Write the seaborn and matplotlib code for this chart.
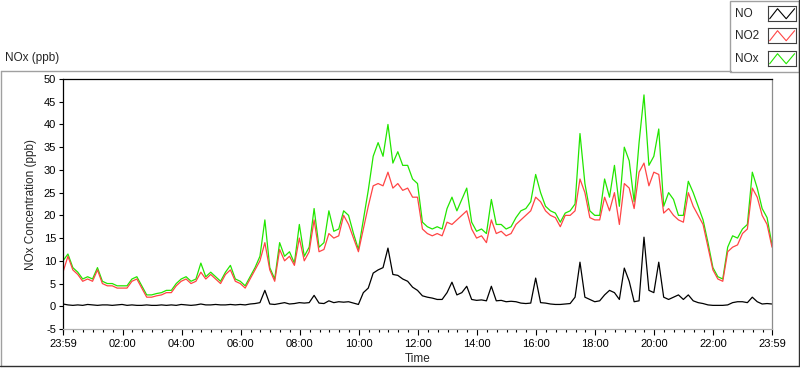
import pandas as pd
import matplotlib
matplotlib.use("Agg")
import matplotlib.pyplot as plt
import matplotlib.dates as mdates
from matplotlib.lines import Line2D
from matplotlib.patches import Rectangle
import seaborn as sns

# Datos (una muestra cada 10 minutos desde las 23:59)
start_time = "2014-03-10 23:59"

no_vals = [0.5, 0.3, 0.2, 0.3, 0.2, 0.4, 0.3, 0.2, 0.3, 0.3,
           0.2, 0.3, 0.4, 0.2, 0.3, 0.2, 0.2, 0.3, 0.2, 0.2,
           0.3, 0.2, 0.3, 0.2, 0.4, 0.3, 0.2, 0.3, 0.5, 0.3,
           0.3, 0.4, 0.3, 0.3, 0.4, 0.3, 0.4, 0.3, 0.5, 0.6,
           0.8, 3.5, 0.5, 0.4, 0.6, 0.8, 0.5, 0.6, 0.8, 0.7,
           0.8, 2.4, 0.7, 0.6, 1.2, 0.8, 1.0, 0.9, 1.0, 0.7,
           0.4, 3.0, 4.0, 7.3, 8.0, 8.5, 12.8, 7.0, 6.8, 6.0,
           5.5, 4.2, 3.5, 2.3, 2.0, 1.8, 1.5, 1.5, 3.0, 5.3,
           2.5, 3.0, 4.4, 1.5, 1.3, 1.4, 1.2, 4.4, 1.2, 1.3,
           1.0, 1.1, 1.0, 0.7, 0.6, 0.7, 6.2, 0.8, 0.7, 0.5,
           0.4, 0.4, 0.5, 0.6, 2.0, 9.7, 2.0, 1.5, 1.0, 1.2,
           2.5, 3.5, 3.0, 1.5, 8.4, 5.5, 1.0, 1.2, 15.2, 3.5,
           3.0, 9.7, 2.0, 1.5, 2.0, 2.5, 1.5, 2.5, 1.2, 0.8,
           0.6, 0.3, 0.2, 0.2, 0.2, 0.3, 0.8, 1.0, 1.0, 0.8,
           2.0, 1.0, 0.5, 0.6, 0.5]

no2_vals = [7.5, 11, 8, 7, 5.5, 6, 5.5, 8, 5, 4.5,
            4.5, 4, 4, 4, 5.5, 6, 4, 2, 2, 2.3,
            2.5, 3, 3, 4.5, 5.5, 6, 5, 5.5, 7.5, 6,
            7, 6, 5, 7, 8, 5.5, 5, 4, 6, 8,
            10, 14, 8, 5.5, 12.5, 10, 11, 9, 15, 10,
            12, 19, 12, 12.5, 16, 15, 15.5, 20, 18, 15,
            12, 17, 22, 26.5, 27, 26.5, 29.5, 26, 27, 25.5,
            26, 24, 24, 17, 16, 15.5, 16, 15.5, 18.5, 18,
            19, 20, 21, 17, 15, 15.5, 14, 19, 16, 16.5,
            15.5, 16, 18, 19, 20, 21, 24, 23, 21, 20,
            19.5, 17.5, 20, 20, 21, 28, 25, 19.5, 19, 19,
            24, 21, 25, 18, 27, 26, 21.5, 29.5, 31.5, 26.5,
            29.5, 29, 20.5, 21.5, 20, 19, 18.5, 25, 22, 20,
            18, 13, 8, 6, 5.5, 12, 13, 13.5, 16, 17,
            26, 24, 20, 18, 13]

nox_vals = [10, 11.5, 8.5, 7.5, 6, 6.5, 6, 8.5, 5.5, 5,
            5, 4.5, 4.5, 4.5, 6, 6.5, 4.5, 2.5, 2.5, 2.8,
            3, 3.5, 3.5, 5, 6, 6.5, 5.5, 6, 9.5, 6.5,
            7.5, 6.5, 5.5, 7.5, 9, 6, 5.5, 4.5, 6.5, 8.5,
            11, 19, 8.5, 6, 14, 11, 12, 9.5, 18, 11,
            13, 21.5, 13, 14, 21, 16.5, 17, 21, 20, 16,
            12.5, 19, 25.5, 33, 36, 33, 40, 31.5, 34, 31,
            31, 28, 27, 18.5, 17.5, 17, 17.5, 17, 21.5, 24,
            21, 23.5, 26, 18.5, 16.5, 17, 16, 23.5, 18, 18,
            17, 17.5, 19.5, 21, 21.5, 23, 29, 25, 22, 21,
            20.5, 18.5, 20.5, 21, 22.5, 38, 27, 21, 20, 20,
            28, 24, 31, 22, 35, 32, 23, 36, 46.5, 31,
            33, 39, 22, 25, 23.5, 20, 20, 27.5, 25, 22,
            19, 14, 8.5, 6.5, 6, 13, 15.5, 15, 17, 18,
            29.5, 26, 21.5, 19.5, 13.5]

series_names = ["NO", "NO2", "NOx"]
series_colors = {"NO": "black", "NO2": "#ff4545", "NOx": "#22e600"}
y_ticks = list(range(-5, 55, 5))
x_tick_hours = list(range(2, 24, 2))

sns.set_theme(style="white")
plt.rcParams['font.family'] = ['Liberation Sans', 'DejaVu Sans']

times = pd.date_range(start_time, periods=len(no_vals), freq="10min")
df = pd.DataFrame({"Time": times, "NO": no_vals, "NO2": no2_vals, "NOx": nox_vals})

W, H = 800, 369
fig = plt.figure(figsize=(8, 3.69), dpi=100)
fig.patch.set_facecolor("white")


def px_box(x0, y0, x1, y1):
    return [x0 / W, 1 - y1 / H, (x1 - x0) / W, (y1 - y0) / H]


def fig_line(xs, ys, color, lw=1.0):
    fig.add_artist(Line2D([x / W for x in xs], [1 - y / H for y in ys],
                          transform=fig.transFigure, color=color, lw=lw))


ax = fig.add_axes(px_box(63, 79, 772, 329))
for name in ["NOx", "NO2", "NO"]:
    sns.lineplot(data=df, x="Time", y=name, color=series_colors[name],
                 linewidth=0.9, estimator=None, ax=ax)

ax.set_xlim(times[0], times[-1])
ax.set_ylim(-5, 50)
ax.set_yticks(y_ticks)
ax.set_yticklabels([str(v) for v in y_ticks])

day = times[0].normalize() + pd.Timedelta(days=1)
major = [times[0]] + [day + pd.Timedelta(hours=h) for h in x_tick_hours] + [times[-1]]
ax.set_xticks(major)
ax.set_xticklabels([t.strftime("%H:%M") for t in major])
ax.xaxis.set_minor_locator(mdates.MinuteLocator(byminute=[0, 20, 40]))

ax.tick_params(axis="both", which="major", direction="out", length=3, width=0.8,
               color="black", labelsize=8, labelcolor="black", pad=2)
ax.tick_params(axis="x", which="major", length=4, bottom=True, pad=3)
ax.tick_params(axis="x", which="minor", direction="out", length=2.2, width=0.8,
               color="black", bottom=True)
ax.tick_params(axis="y", left=True)

ax.spines["left"].set_color("black")
ax.spines["top"].set_color("black")
ax.spines["right"].set_color("#8c8c8c")
ax.spines["bottom"].set_color("#b0b0b0")
for s in ax.spines.values():
    s.set_linewidth(0.9)

ax.set_xlabel("Time", fontsize=8.5, labelpad=3)
ax.set_ylabel("NOx Concentration (ppb)", fontsize=8.5, labelpad=5)
ax.grid(False)

# Marco exterior del panel
fig_line([0.5, 731], [70.5, 70.5], "#a0a0a0")
fig_line([0.5, 0.5], [70.5, 366], "#a0a0a0")
fig_line([0, 799], [366, 366], "#303030")
fig_line([798.5, 798.5], [0, 366], "#303030")

fig.text(5 / W, 1 - 58 / H, "NOx (ppb)", fontsize=8.5, va="center", ha="left")

# Leyenda
fig.add_artist(Rectangle((730 / W, 1 - 72 / H), 69 / W, 71 / H, transform=fig.transFigure,
                         fill=False, edgecolor="#a0a0a0", lw=1.0))
legend_rows = [14, 36, 59]
for name, yc in zip(series_names, legend_rows):
    fig.text(735 / W, 1 - yc / H, name, fontsize=8.5, va="center", ha="left")
    sax = fig.add_axes(px_box(768, yc - 8, 796, yc + 7))
    sax.plot([0.06, 0.34, 0.65, 0.95], [0.15, 0.82, 0.15, 0.82],
             color=series_colors[name], lw=0.8)
    sax.set_xlim(0, 1)
    sax.set_ylim(0, 1)
    sax.set_xticks([])
    sax.set_yticks([])
    for s in sax.spines.values():
        s.set_color("#404040")
        s.set_linewidth(0.8)

fig.savefig("out.png", dpi=100, facecolor="white")
